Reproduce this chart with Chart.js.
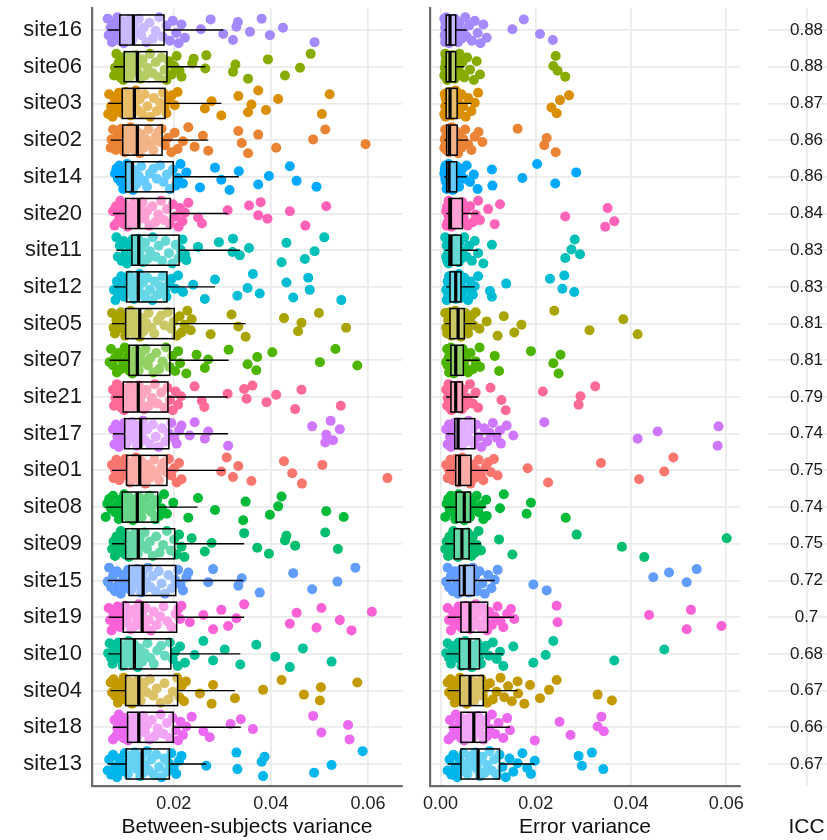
<!DOCTYPE html>
<html>
<head>
<meta charset="utf-8">
<script src="https://cdn.jsdelivr.net/npm/chart.js@4.4.1/dist/chart.umd.min.js"></script>
<style>
  html, body { margin: 0; padding: 0; background: #fff; overflow: hidden; }
  .panel { position: absolute; top: 0; }
</style>
</head>
<body>
<div class="panel" style="left:0"><canvas id="bs" width="410" height="840"></canvas></div>
<div class="panel" style="left:410px"><canvas id="er" width="340" height="840"></canvas></div>
<div class="panel" style="left:750px"><canvas id="icc" width="95" height="840"></canvas></div>
<script>
const SITES = ["site16", "site06", "site03", "site02", "site14", "site20", "site11", "site12", "site05", "site07", "site21",
  "site17", "site01", "site08", "site09", "site15", "site19", "site10", "site04", "site18", "site13"];
const COLORS = ["#A58AFF", "#86AC00", "#DA8F00", "#EB8335", "#00A9FF", "#FF63B9", "#00C0B8", "#00BCD4", "#A9A400", "#4DB400", "#FF6A96",
  "#CF78FF", "#F8766D", "#00BA38", "#00BE6E", "#619CFF", "#FB61D7", "#00C198", "#C39A00", "#EA69EF", "#00B5EC"];
const ICC = [0.88, 0.88, 0.87, 0.86, 0.86, 0.84, 0.83, 0.83, 0.81, 0.81, 0.79, 0.74, 0.75, 0.74, 0.75, 0.72, 0.7, 0.68, 0.67, 0.66, 0.67];

// all variances below are in units of 1e-4
const BS_LO  = [64, 77, 65, 70, 79, 75, 82, 77, 73, 68, 75, 75, 73, 60, 73, 64, 66, 65, 70, 75, 64];
const BS_Q1  = [89, 98, 94, 95, 101, 101, 114, 103, 101, 108, 96, 99, 103, 94, 101, 108, 96, 91, 101, 105, 102];
const BS_MED = [117, 125, 119, 125, 115, 128, 128, 127, 130, 125, 127, 132, 130, 125, 127, 137, 135, 119, 128, 128, 135];
const BS_Q3  = [180, 186, 182, 176, 199, 193, 211, 186, 201, 192, 188, 190, 186, 167, 202, 204, 206, 194, 208, 199, 191];
const BS_HI  = [302, 265, 298, 271, 334, 311, 336, 285, 348, 313, 311, 312, 305, 249, 345, 343, 345, 337, 326, 338, 267];

const BS_POINTS = [
  [64, 66, 70, 73, 76, 79, 82, 84, 86, 88, 90, 92, 95, 97, 100, 103, 106, 109, 112, 115, 117, 120, 124, 128, 133, 138, 144, 150, 157, 163, 170, 177, 185, 192, 198, 205, 210, 216, 223, 256, 276, 302, 322, 329, 332, 357, 381, 398, 425, 490],
  [77, 79, 82, 85, 87, 90, 92, 94, 96, 97, 99, 101, 104, 107, 110, 113, 116, 119, 122, 125, 128, 132, 136, 141, 146, 151, 157, 163, 169, 175, 181, 185, 190, 196, 201, 206, 212, 216, 238, 241, 265, 267, 322, 327, 353, 394, 429, 460, 482],
  [65, 67, 71, 74, 78, 81, 84, 87, 90, 93, 95, 97, 100, 102, 105, 108, 111, 114, 117, 119, 122, 126, 130, 135, 140, 146, 152, 159, 165, 172, 178, 181, 185, 190, 196, 202, 208, 264, 278, 298, 333, 353, 360, 374, 390, 415, 505, 521],
  [70, 72, 75, 78, 81, 84, 87, 89, 92, 94, 96, 99, 102, 105, 108, 111, 114, 118, 121, 124, 127, 130, 134, 138, 143, 148, 153, 158, 163, 168, 172, 175, 182, 188, 195, 202, 208, 219, 230, 243, 260, 271, 333, 340, 353, 374, 411, 487, 512, 595],
  [79, 82, 85, 88, 91, 94, 96, 98, 100, 102, 104, 106, 108, 110, 112, 114, 116, 119, 123, 128, 133, 139, 145, 151, 158, 165, 172, 179, 186, 192, 198, 204, 209, 214, 219, 226, 254, 285, 298, 315, 334, 374, 396, 439, 453, 494],
  [75, 78, 81, 84, 87, 90, 93, 96, 98, 100, 102, 105, 108, 111, 114, 117, 120, 123, 126, 129, 132, 136, 140, 145, 150, 156, 162, 168, 174, 180, 186, 192, 198, 204, 210, 213, 218, 223, 230, 250, 258, 311, 355, 374, 379, 393, 439, 471, 514],
  [82, 85, 89, 93, 97, 101, 104, 107, 110, 113, 115, 117, 119, 121, 123, 125, 127, 130, 133, 137, 141, 146, 151, 157, 163, 169, 176, 183, 190, 197, 204, 210, 214, 218, 223, 226, 250, 293, 321, 322, 336, 355, 422, 432, 470, 490, 510],
  [77, 80, 83, 86, 89, 92, 95, 98, 101, 104, 106, 109, 112, 115, 118, 121, 124, 127, 130, 133, 137, 141, 146, 151, 156, 161, 167, 172, 177, 182, 185, 190, 196, 203, 209, 219, 240, 264, 285, 331, 352, 363, 377, 432, 446, 477, 480, 545],
  [73, 76, 79, 82, 85, 88, 91, 94, 97, 100, 102, 105, 108, 111, 114, 117, 120, 124, 127, 130, 134, 138, 143, 148, 154, 160, 167, 174, 181, 188, 195, 200, 206, 212, 216, 222, 228, 235, 237, 276, 319, 333, 348, 427, 456, 463, 499, 555],
  [68, 71, 75, 79, 83, 87, 91, 95, 99, 103, 106, 109, 111, 113, 115, 117, 119, 121, 123, 125, 128, 131, 134, 138, 142, 147, 152, 158, 164, 170, 177, 184, 191, 197, 203, 209, 213, 226, 247, 264, 271, 313, 352, 370, 372, 403, 501, 533, 578],
  [75, 77, 80, 83, 86, 89, 92, 94, 96, 98, 101, 104, 107, 110, 113, 116, 119, 122, 125, 128, 131, 135, 139, 144, 149, 155, 161, 167, 174, 181, 187, 192, 198, 204, 209, 215, 243, 258, 263, 311, 345, 350, 362, 391, 411, 450, 463, 544],
  [75, 78, 81, 84, 87, 90, 93, 96, 98, 100, 103, 106, 109, 112, 115, 118, 121, 124, 127, 130, 133, 137, 141, 146, 151, 157, 163, 169, 176, 183, 189, 195, 201, 206, 211, 216, 233, 243, 264, 271, 312, 485, 512, 514, 523, 528, 542],
  [73, 76, 79, 82, 85, 88, 91, 94, 97, 100, 104, 107, 110, 113, 116, 119, 122, 125, 128, 131, 134, 138, 142, 146, 150, 155, 160, 165, 170, 175, 180, 185, 190, 195, 201, 206, 211, 216, 298, 309, 322, 333, 360, 427, 444, 464, 506, 640],
  [60, 63, 67, 71, 75, 79, 83, 87, 90, 93, 95, 98, 101, 104, 107, 110, 113, 116, 119, 122, 125, 128, 131, 134, 138, 142, 146, 150, 154, 158, 162, 166, 170, 175, 180, 186, 199, 230, 250, 285, 343, 348, 398, 415, 422, 514, 550],
  [73, 76, 79, 82, 85, 88, 91, 94, 97, 100, 102, 105, 108, 111, 114, 117, 120, 123, 126, 129, 132, 136, 140, 145, 151, 157, 164, 171, 178, 186, 194, 201, 206, 211, 216, 222, 237, 264, 278, 345, 372, 396, 429, 432, 450, 512, 538],
  [64, 67, 71, 75, 79, 83, 87, 91, 95, 99, 103, 106, 109, 112, 115, 118, 121, 124, 127, 130, 133, 136, 139, 143, 147, 152, 157, 163, 169, 175, 182, 189, 196, 203, 209, 214, 219, 226, 230, 271, 281, 333, 340, 377, 446, 485, 537, 574],
  [66, 69, 72, 75, 78, 81, 84, 87, 90, 93, 95, 97, 100, 104, 108, 112, 116, 120, 124, 128, 132, 135, 139, 143, 148, 153, 159, 165, 172, 179, 187, 195, 204, 209, 213, 216, 233, 261, 281, 298, 312, 329, 345, 439, 453, 494, 504, 542, 566, 608],
  [65, 68, 71, 74, 77, 80, 83, 86, 89, 92, 95, 98, 101, 104, 107, 110, 113, 116, 119, 122, 126, 130, 135, 140, 146, 152, 159, 166, 174, 182, 192, 198, 203, 208, 213, 223, 243, 261, 281, 305, 337, 370, 409, 439, 466, 525],
  [70, 73, 76, 79, 82, 85, 88, 91, 94, 97, 100, 102, 105, 108, 111, 114, 117, 120, 123, 126, 129, 132, 136, 140, 145, 151, 158, 165, 173, 181, 189, 198, 207, 212, 216, 221, 225, 254, 278, 281, 326, 384, 422, 468, 501, 503, 578],
  [75, 78, 81, 84, 87, 90, 93, 96, 99, 102, 106, 109, 112, 115, 118, 121, 124, 127, 130, 133, 137, 141, 145, 150, 155, 161, 167, 173, 179, 186, 192, 198, 204, 209, 214, 219, 226, 237, 261, 274, 317, 338, 363, 487, 504, 559, 562],
  [64, 67, 71, 75, 79, 83, 87, 91, 95, 99, 103, 106, 110, 113, 117, 120, 124, 127, 131, 134, 137, 141, 145, 149, 154, 159, 164, 170, 175, 181, 186, 190, 195, 200, 205, 211, 216, 267, 329, 331, 381, 384, 387, 489, 525, 589]
];

const ER_LO  = [8, 8, 8, 8, 8, 12, 10, 12, 10, 12, 12, 12, 12, 10, 10, 12, 15, 12, 15, 17, 15];
const ER_Q1  = [12, 12, 12, 13, 13, 18, 18, 20, 20, 22, 22, 30, 32, 33, 29, 40, 43, 40, 41, 43, 43];
const ER_MED = [20, 20, 20, 19, 18, 21, 22, 32, 37, 32, 32, 37, 40, 50, 45, 50, 62, 61, 62, 70, 79];
const ER_Q3  = [32, 32, 35, 35, 34, 46, 43, 43, 50, 48, 46, 72, 64, 63, 60, 71, 99, 82, 90, 96, 124];
const ER_HI  = [55, 50, 65, 58, 55, 79, 79, 72, 74, 82, 79, 127, 100, 96, 85, 114, 155, 132, 162, 146, 198];

const ER_POINTS = [
  [8, 9, 10, 10, 11, 11, 12, 12, 13, 14, 15, 16, 17, 18, 19, 20, 21, 22, 23, 24, 26, 27, 28, 30, 31, 34, 37, 40, 44, 48, 52, 55, 60, 66, 72, 78, 84, 90, 97, 151, 175, 209, 236],
  [8, 9, 10, 10, 11, 12, 12, 13, 14, 15, 16, 17, 18, 19, 20, 21, 22, 23, 25, 26, 28, 30, 31, 34, 37, 40, 43, 46, 50, 56, 62, 70, 76, 83, 237, 242, 246, 262],
  [8, 9, 10, 11, 11, 12, 13, 14, 15, 16, 17, 18, 19, 20, 21, 22, 24, 26, 28, 30, 32, 34, 37, 40, 44, 48, 53, 58, 65, 72, 79, 233, 244, 251, 270],
  [8, 9, 10, 11, 12, 12, 13, 14, 15, 16, 17, 18, 19, 20, 22, 24, 26, 28, 30, 32, 34, 37, 40, 44, 48, 52, 58, 65, 72, 80, 88, 162, 218, 223, 242],
  [8, 9, 10, 11, 12, 12, 13, 14, 15, 16, 17, 18, 19, 20, 22, 24, 26, 28, 30, 32, 34, 36, 39, 42, 46, 50, 55, 62, 70, 78, 108, 109, 172, 203, 241, 285],
  [12, 13, 14, 15, 16, 17, 18, 19, 20, 21, 22, 23, 25, 27, 29, 31, 33, 35, 37, 40, 43, 46, 49, 53, 57, 62, 68, 74, 79, 83, 100, 114, 125, 262, 346, 351, 365],
  [10, 12, 13, 14, 15, 16, 17, 18, 19, 20, 21, 22, 23, 25, 27, 29, 31, 33, 35, 38, 40, 43, 46, 50, 55, 60, 66, 72, 79, 90, 108, 262, 275, 282, 293],
  [12, 13, 15, 16, 17, 18, 19, 20, 21, 23, 25, 27, 29, 31, 32, 33, 35, 37, 39, 41, 43, 46, 50, 54, 58, 63, 68, 72, 79, 104, 108, 138, 230, 256, 260, 281],
  [10, 12, 14, 16, 17, 18, 19, 20, 21, 23, 25, 27, 29, 31, 33, 35, 37, 39, 41, 43, 45, 47, 49, 52, 55, 58, 62, 66, 70, 74, 82, 97, 120, 133, 155, 170, 239, 313, 384, 414],
  [12, 14, 15, 17, 18, 19, 20, 21, 22, 23, 24, 25, 26, 27, 28, 30, 32, 33, 35, 37, 39, 41, 43, 45, 47, 50, 54, 58, 63, 68, 74, 82, 83, 114, 123, 190, 237, 248, 252],
  [12, 14, 15, 17, 18, 19, 20, 21, 22, 23, 24, 25, 26, 28, 30, 32, 33, 35, 37, 39, 41, 43, 45, 48, 52, 57, 62, 68, 74, 79, 105, 128, 137, 215, 290, 294, 325],
  [12, 15, 18, 20, 22, 24, 26, 28, 29, 30, 31, 32, 34, 36, 37, 39, 42, 45, 48, 51, 55, 59, 63, 67, 71, 75, 80, 86, 92, 98, 104, 110, 118, 127, 125, 139, 153, 218, 414, 456, 582, 584],
  [12, 15, 18, 21, 24, 26, 28, 30, 31, 32, 34, 36, 38, 40, 42, 44, 46, 48, 51, 54, 57, 60, 63, 67, 71, 75, 80, 85, 90, 95, 100, 106, 112, 120, 183, 226, 337, 417, 470, 489],
  [10, 13, 16, 19, 22, 25, 28, 31, 32, 34, 36, 38, 40, 42, 44, 46, 48, 50, 52, 54, 56, 58, 60, 62, 65, 68, 72, 76, 80, 85, 90, 96, 97, 125, 133, 181, 190, 263],
  [10, 13, 16, 19, 22, 25, 27, 28, 29, 31, 33, 35, 37, 39, 41, 43, 45, 47, 49, 51, 53, 55, 57, 59, 62, 65, 68, 72, 76, 80, 85, 123, 151, 286, 381, 428, 601],
  [12, 15, 18, 22, 26, 30, 34, 37, 39, 40, 42, 43, 45, 46, 48, 50, 52, 54, 56, 58, 60, 62, 64, 66, 68, 70, 73, 77, 82, 88, 93, 100, 107, 114, 120, 195, 223, 447, 480, 517, 538],
  [15, 18, 22, 26, 30, 34, 38, 41, 43, 45, 48, 51, 54, 57, 60, 62, 65, 68, 71, 74, 78, 82, 86, 90, 94, 98, 102, 108, 114, 120, 126, 132, 140, 148, 155, 244, 246, 438, 517, 526, 590],
  [12, 15, 18, 22, 26, 30, 34, 38, 40, 42, 44, 46, 48, 50, 52, 54, 56, 58, 61, 63, 66, 69, 72, 75, 78, 81, 85, 90, 96, 102, 110, 118, 125, 132, 153, 195, 221, 237, 365, 470],
  [15, 18, 21, 24, 27, 30, 33, 36, 39, 41, 42, 44, 46, 49, 52, 55, 58, 61, 62, 65, 68, 71, 74, 78, 82, 86, 89, 93, 98, 104, 110, 118, 126, 134, 142, 150, 162, 163, 176, 188, 209, 228, 244, 330, 360],
  [17, 20, 24, 28, 32, 36, 40, 43, 44, 47, 50, 53, 56, 59, 62, 65, 68, 70, 73, 76, 79, 82, 86, 90, 95, 98, 103, 108, 115, 122, 132, 140, 146, 198, 250, 273, 330, 338, 343],
  [15, 19, 23, 27, 31, 35, 39, 43, 45, 49, 53, 57, 61, 65, 69, 73, 77, 79, 83, 88, 93, 98, 103, 108, 113, 118, 124, 130, 137, 145, 153, 162, 172, 182, 190, 198, 290, 297, 318, 342]
];

// vertical jitter offsets (in row units), reused cyclically
const JITTER = [-0.31, 0.14, -0.06, 0.33, -0.2, 0.24, 0.03, -0.35, 0.18, -0.12, 0.29, -0.25, 0.08, 0.36, -0.15, 0.21, -0.02, -0.29, 0.11, 0.27, -0.09, -0.22, 0.05];
const UNIT = 1e-4;

const GRID = "#ebebeb";
const AXIS = "#6b6b6b";
const FONT = "'Liberation Sans', Arial, sans-serif";
Chart.defaults.font.family = FONT;

const makeBoxes = (lo, q1, med, q3, hi) => ({
  id: "boxes",
  afterDatasetsDraw(chart) {
    const { ctx, scales: { x, y } } = chart;
    const px = v => x.getPixelForValue(v * UNIT);
    ctx.save();
    ctx.strokeStyle = "#000";
    SITES.forEach((s, i) => {
      const yc = y.getPixelForValue(i);
      const h = Math.abs(y.getPixelForValue(i + 0.41) - yc);
      ctx.lineWidth = 1.4;
      ctx.beginPath();
      ctx.moveTo(px(lo[i]), yc); ctx.lineTo(px(q1[i]), yc);
      ctx.moveTo(px(q3[i]), yc); ctx.lineTo(px(hi[i]), yc);
      ctx.stroke();
      const x1 = px(q1[i]), x3 = px(q3[i]);
      ctx.fillStyle = "rgba(255,255,255,0.4)";
      ctx.fillRect(x1, yc - h, x3 - x1, 2 * h);
      ctx.lineWidth = 1.5;
      ctx.strokeRect(x1, yc - h, x3 - x1, 2 * h);
      ctx.lineWidth = 3.2;
      ctx.beginPath();
      ctx.moveTo(px(med[i]), yc - h); ctx.lineTo(px(med[i]), yc + h);
      ctx.stroke();
    });
    ctx.restore();
  }
});

const pointSets = points => SITES.map((s, i) => ({
  label: s,
  data: points[i].map((v, k) => ({ x: v * UNIT, y: i + JITTER[(k + i * 5) % JITTER.length] })),
  pointBackgroundColor: COLORS[i],
  pointBorderWidth: 0,
  pointRadius: 5,
  pointHoverRadius: 5
}));

const yAxis = (labels, width, border) => ({
  type: "linear", reverse: true, min: -0.6, max: 20.6,
  afterBuildTicks: s => { s.ticks = SITES.map((_, i) => ({ value: i })); },
  afterFit: s => { s.width = width; s.paddingTop = 0; s.paddingBottom = 0; },
  grid: { color: GRID, lineWidth: 1.8, drawTicks: false },
  border: { display: border, color: AXIS, width: 2.2 },
  ticks: { display: labels, autoSkip: false, padding: 10, color: "#1a1a1a", font: { size: 22 }, callback: v => SITES[v] }
});

const xAxis = (min, max, ticks, title, border) => ({
  type: "linear", min: min, max: max,
  afterBuildTicks: s => { s.ticks = ticks.map(v => ({ value: v })); },
  afterFit: s => { s.height = 54; s.paddingLeft = 0; s.paddingRight = 0; },
  grid: { color: GRID, lineWidth: 1.8, drawTicks: false },
  border: { display: border, color: AXIS, width: 2.2 },
  ticks: { display: border, padding: 7, color: "#222", font: { size: 18 }, callback: v => v.toFixed(2) },
  title: { display: true, text: title, color: "#111", font: { size: 21 }, padding: { top: 0, bottom: 0 } }
});

const base = (padding) => ({
  responsive: false,
  animation: false,
  events: [],
  layout: { padding: padding },
  plugins: { legend: { display: false }, tooltip: { enabled: false } }
});

new Chart(document.getElementById("bs"), {
  type: "scatter",
  data: { datasets: pointSets(BS_POINTS) },
  options: Object.assign(base({ top: 8, right: 8, left: 0, bottom: 0 }), {
    scales: { x: xAxis(0.00317, 0.0670, [0.02, 0.04, 0.06], "Between-subjects variance", true), y: yAxis(true, 92, true) }
  }),
  plugins: [makeBoxes(BS_LO, BS_Q1, BS_MED, BS_Q3, BS_HI)]
});

new Chart(document.getElementById("er"), {
  type: "scatter",
  data: { datasets: pointSets(ER_POINTS) },
  options: Object.assign(base({ top: 8, right: 10, left: 0, bottom: 0 }), {
    scales: { x: xAxis(-0.0022, 0.0629, [0, 0.02, 0.04, 0.06], "Error variance", true), y: yAxis(false, 20, true) }
  }),
  plugins: [makeBoxes(ER_LO, ER_Q1, ER_MED, ER_Q3, ER_HI)]
});

new Chart(document.getElementById("icc"), {
  type: "scatter",
  data: { datasets: [] },
  options: Object.assign(base({ top: 8, right: 0, left: 18, bottom: 0 }), {
    scales: { x: xAxis(0, 1, [0.5], "ICC", false), y: yAxis(false, 0, false) }
  }),
  plugins: [{
    id: "iccText",
    afterDraw(chart) {
      const { ctx, scales: { x, y } } = chart;
      ctx.save();
      ctx.fillStyle = "#1a1a1a";
      ctx.font = "17px " + FONT;
      ctx.textAlign = "center";
      ctx.textBaseline = "middle";
      ICC.forEach((v, i) => ctx.fillText(String(v), x.getPixelForValue(0.5), y.getPixelForValue(i)));
      ctx.restore();
    }
  }]
});
</script>
</body>
</html>
